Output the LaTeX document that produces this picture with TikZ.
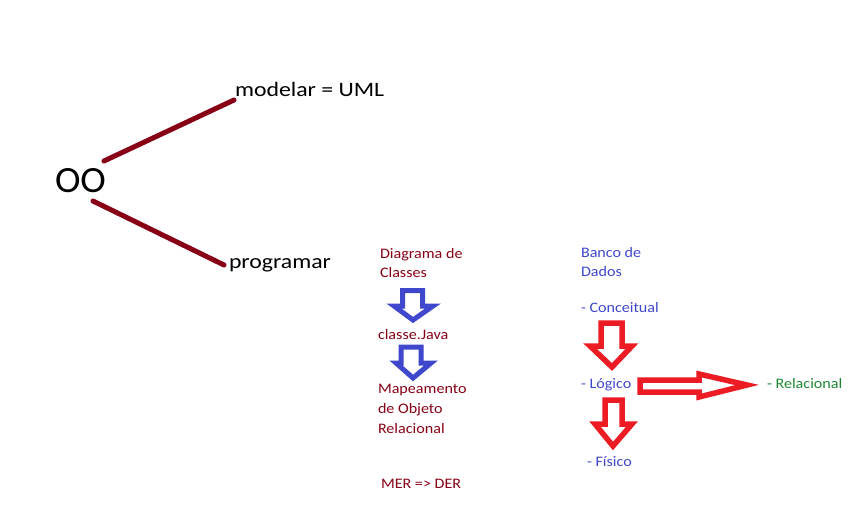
\documentclass[tikz,border=0pt]{standalone}
\usepackage{fontspec}
\setmainfont{Carlito}
\newfontfamily\widebig[FakeStretch=1.16]{Carlito}
\newfontfamily\widesmall[FakeStretch=1.11]{Carlito}
\newfontfamily\widehuge[FakeStretch=1.04]{Carlito}
\definecolor{dred}{HTML}{880015}
\definecolor{pblue}{HTML}{3F48CC}
\definecolor{pred}{HTML}{ED1C24}
\definecolor{pgreen}{RGB}{30,135,50}
\begin{document}
\begin{tikzpicture}[x=1pt,y=-1pt,
  txt/.style={anchor=base west,inner sep=0pt,outer sep=0pt},
  small/.style={txt,font=\widesmall\fontsize{14.5}{18}\selectfont},
  mid/.style={txt,font=\widebig\fontsize{20.5}{24}\selectfont},
  stem/.style={draw=dred,line width=5pt,line cap=round},
  barrow/.style={draw=pblue,line width=5pt,line join=miter},
  rarrow/.style={draw=pred,line width=5.5pt,line join=miter}]
\useasboundingbox (0,0) rectangle (867,522);
\fill[white] (0,0) rectangle (867,522);
% main texts
\node[txt,font=\widehuge\fontsize{37}{40}\selectfont] (oo) at (55,192) {OO};
\node[mid] (uml) at (235,96) {modelar = UML};
\node[mid] (prog) at (229,268) {programar};
\coordinate (a1) at (104,161);
\coordinate (a2) at (234,100);
\coordinate (b1) at (93,201);
\coordinate (b2) at (224,265);
\draw[stem] (a1) -- (a2);
\draw[stem] (b1) -- (b2);
% column 1
\node[small,text=dred] (dc1) at (380,258) {Diagrama de};
\node[small,text=dred] (dc2) at (380,277) {Classes};
\node[small,text=dred] (cj) at (378,339) {classe.Java};
\node[small,text=dred] (m1) at (378,393) {Mapeamento};
\node[small,text=dred] (m2) at (378,413) {de Objeto};
\node[small,text=dred] (m3) at (378,433) {Relacional};
\node[small,text=dred] (mer) at (381,488) {MER => DER};
\draw[barrow] (402.5,290.5) -- (422.5,290.5) -- (422.5,306) -- (433,306) -- (413,320) -- (394,306) -- (402.5,306) -- cycle;
\draw[barrow] (401,347) -- (421,347) -- (421,363) -- (431,363) -- (413,378) -- (396,363) -- (401,363) -- cycle;
% column 2
\node[small,text=pblue] (bd1) at (581,257) {Banco de};
\node[small,text=pblue] (bd2) at (581,276) {Dados};
\node[small,text=pblue] (conc) at (581,312) {- Conceitual};
\node[small,text=pblue] (log) at (581,388) {- Lógico};
\node[small,text=pblue] (fis) at (587,466) {- Físico};
\node[small,text=pgreen] (rel) at (767,388) {- Relacional};
\draw[rarrow] (601,323) -- (622,323) -- (622,346) -- (632,346) -- (612,367) -- (590,346) -- (601,346) -- cycle;
\draw[rarrow] (605,400) -- (622,400) -- (622,424) -- (632,424) -- (613,446) -- (595,424) -- (605,424) -- cycle;
\draw[rarrow] (640,380) -- (699,380) -- (699,374) -- (747,385) -- (699,397) -- (699,392) -- (640,392) -- cycle;
\end{tikzpicture}
\end{document}
